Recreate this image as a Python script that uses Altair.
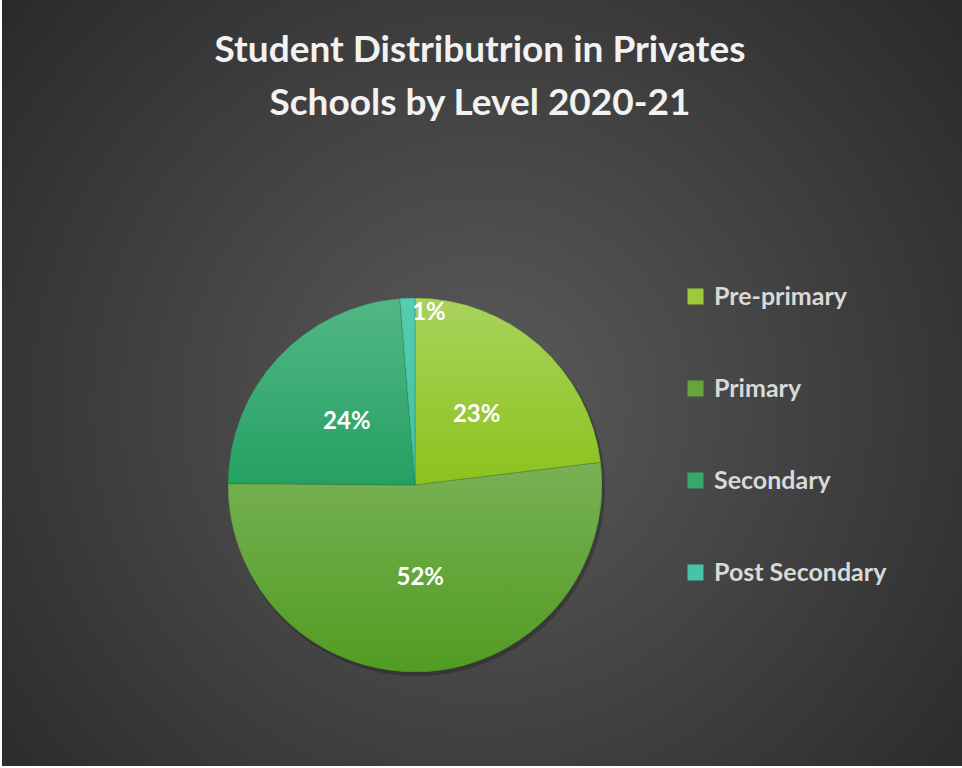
import math
import altair as alt
import pandas as pd

# ---- data ----
categories = ["Pre-primary", "Primary", "Secondary", "Post Secondary"]
values = [23.1, 52.1, 23.6, 1.3]
order = [0, 1, 2, 3]
flat_colors = ["#9bcb3b", "#64a63a", "#35a86d", "#45c4a6"]
grad_top = ["#a9d35c", "#78b155", "#53b786", "#54cdb0"]
grad_bottom = ["#8cc21e", "#529c22", "#24a062", "#3ec2a2"]
title_lines = ["Student Distributrion in Privates", "Schools by Level 2020-21"]

df = pd.DataFrame({"category": categories, "value": values, "order": order})
one = pd.DataFrame({"k": [0]})

CX, CY, R = 415, 485, 187
TWO_PI = 2 * math.pi
theta_scale = alt.Scale(domain=[0, 1], range=[0, TWO_PI])


def pie_base():
    return (
        alt.Chart(df)
        .transform_joinaggregate(total="sum(value)")
        .transform_window(cum="sum(value)", sort=[alt.SortField("order")], frame=[None, 0])
        .transform_calculate(
            t0="(datum.cum - datum.value) / datum.total",
            t1="datum.cum / datum.total",
            tm="(datum.cum - datum.value / 2) / datum.total",
            label="format(datum.value / datum.total, '.0%')",
        )
    )


# background with radial gradient
bg = alt.Chart(one).mark_rect(
    color=alt.RadialGradient(
        gradient="radial",
        stops=[
            alt.GradientStop(offset=0, color="#5b5b5b"),
            alt.GradientStop(offset=1, color="#282828"),
        ],
        x1=0.499, y1=0.523, r1=0,
        x2=0.499, y2=0.523, r2=0.677,
    )
).encode(x=alt.value(2), x2=alt.value(962), y=alt.value(0), y2=alt.value(766))

# pie shadow
shadow = alt.Chart(one).mark_arc(outerRadius=R + 1, color="black", opacity=0.22).encode(
    theta=alt.value(0), theta2=alt.value(TWO_PI), x=alt.value(CX + 2), y=alt.value(CY + 3)
)

# flat pie providing the legend
flat = pie_base().mark_arc(outerRadius=R).encode(
    theta=alt.Theta("t0:Q", scale=theta_scale),
    theta2="t1:Q",
    x=alt.value(CX),
    y=alt.value(CY),
    color=alt.Color(
        "category:N",
        scale=alt.Scale(domain=categories, range=flat_colors),
        legend=alt.Legend(
            title=None,
            orient="none",
            legendX=683,
            legendY=284,
            symbolType="square",
            symbolSize=256,
            symbolStrokeWidth=0,
            symbolOpacity=1,
            labelFont="Lato",
            labelFontSize=25,
            labelFontWeight="bold",
            labelColor="#d9d9d9",
            labelOffset=6,
            labelLimit=400,
            rowPadding=66,
        ),
    ),
)

# gradient overlays per slice
grad_layers = []
for cat, top, bottom in zip(categories, grad_top, grad_bottom):
    grad_layers.append(
        pie_base()
        .transform_filter(alt.datum.category == cat)
        .mark_arc(
            outerRadius=R,
            stroke="#2f4f2a",
            strokeWidth=0.6,
            strokeOpacity=0.45,
            color=alt.LinearGradient(
                gradient="linear",
                stops=[
                    alt.GradientStop(offset=0, color=top),
                    alt.GradientStop(offset=1, color=bottom),
                ],
                x1=0, y1=0, x2=0, y2=1,
            ),
        )
        .encode(
            theta=alt.Theta("t0:Q", scale=theta_scale),
            theta2="t1:Q",
            x=alt.value(CX),
            y=alt.value(CY),
        )
    )

label_style = dict(font="Lato", fontSize=24, fontWeight="bold", color="white")

labels_main = (
    pie_base()
    .transform_filter(alt.datum.category != categories[-1])
    .mark_text(radius=93, **label_style)
    .encode(
        theta=alt.Theta("tm:Q", scale=theta_scale),
        text="label:N",
        x=alt.value(CX),
        y=alt.value(CY),
    )
)

labels_small = (
    pie_base()
    .transform_filter(alt.datum.category == categories[-1])
    .mark_text(radius=172, dx=21, **label_style)
    .encode(
        theta=alt.Theta("tm:Q", scale=theta_scale),
        text="label:N",
        x=alt.value(CX),
        y=alt.value(CY),
    )
)

title_layers = []
for i, line in enumerate(title_lines):
    ty = 51 + 53 * i
    title_layers.append(
        alt.Chart(one).mark_text(
            text=line, font="Lato", fontSize=37, fontWeight="bold",
            color="#f2f2f2", baseline="middle", align="center"
        ).encode(x=alt.value(480), y=alt.value(ty))
    )

chart = (
    alt.layer(bg, shadow, flat, *grad_layers, labels_main, labels_small, *title_layers)
    .properties(width=962, height=768, autosize="none", padding=0, background="white")
    .configure_view(strokeWidth=0)
)

chart.save("out.html", embed_options={"renderer": "svg", "actions": False})
